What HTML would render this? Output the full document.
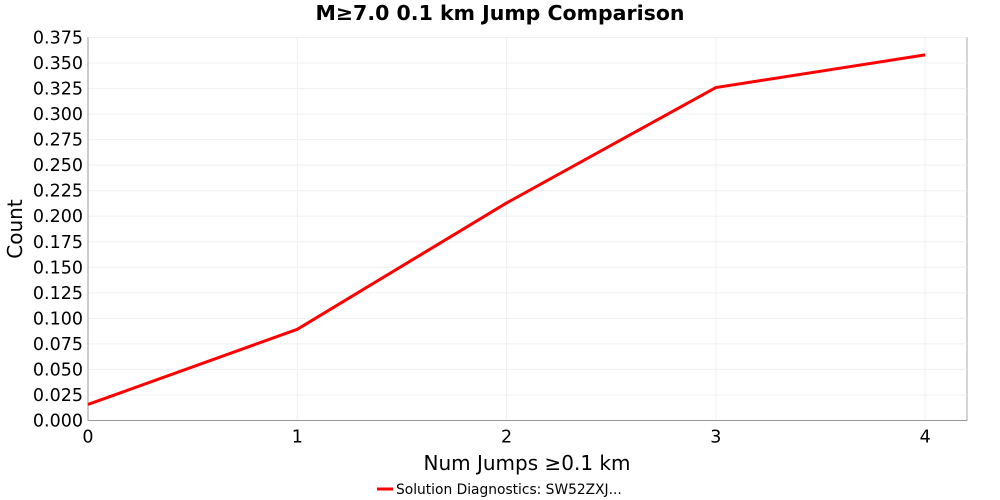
<!DOCTYPE html>
<html><head><meta charset="utf-8"><style>
body{margin:0;background:#fff;}
svg{display:block;font-family:"Liberation Sans","DejaVu Sans",sans-serif;}
</style></head><body>
<svg id="chart" width="1000" height="500">
<text x="500" y="20" text-anchor="middle" font-size="20.5" font-weight="bold" font-family="DejaVu Sans, sans-serif">M≥7.0 0.1 km Jump Comparison</text>
<g id="grid"></g>
<g id="yticks"></g>
<g id="xticks"></g>
<g id="series"></g>
<text x="0" y="0" transform="translate(22,229) rotate(-90)" text-anchor="middle" font-size="20" font-family="DejaVu Sans, sans-serif">Count</text>
<text x="527" y="470" text-anchor="middle" font-size="20" font-family="DejaVu Sans, sans-serif">Num Jumps ≥0.1 km</text>
<g>
<line x1="377" y1="489" x2="393" y2="489" stroke="#f00" stroke-width="3"/>
<text x="396" y="494" font-size="13.8" font-family="DejaVu Sans, sans-serif">Solution Diagnostics: SW52ZXJ...</text>
</g>
</svg>
<script>
const categories = [0, 1, 2, 3, 4];
const seriesValues = [0.0157, 0.0893, 0.213, 0.326, 0.358];
const yTickLabels = ["0.000","0.025","0.050","0.075","0.100","0.125","0.150","0.175","0.200","0.225","0.250","0.275","0.300","0.325","0.350","0.375"];
const xTickLabels = ["0","1","2","3","4"];

const L=88,R=967,T=37.5,B=420.5;
const xMax=4.2, yMax=0.375;
const xs=v=>L+(v/xMax)*(R-L);
const ys=v=>B-(v/yMax)*(B-T);
const NS="http://www.w3.org/2000/svg";
function mk(tag,parent,attrs){const e=document.createElementNS(NS,tag);for(const k in attrs)e.setAttribute(k,attrs[k]);parent.appendChild(e);return e;}
const grid=document.getElementById('grid'),yt=document.getElementById('yticks'),xt=document.getElementById('xticks'),ser=document.getElementById('series');

const bg=mk('rect',grid,{x:L,y:T,width:R-L,height:B-T,fill:'#fff',stroke:'#aaa','stroke-width':1});



yTickLabels.forEach(s=>{
  const v=parseFloat(s),y=ys(v);
  const g=mk('line',grid,{x1:L,x2:R,y1:y,y2:y,stroke:'#f0f0f0','stroke-width':1});
  
  
  const t=mk('text',yt,{x:L-5,y:y+6,'text-anchor':'end','font-size':17.5,'font-family':'DejaVu Sans, sans-serif'});
  t.textContent=s;
  
  
});
xTickLabels.forEach(s=>{
  const v=parseFloat(s),x=xs(v);
  const g=mk('line',grid,{x1:x,x2:x,y1:T,y2:B,stroke:'#f0f0f0','stroke-width':1});
  
  
  const t=mk('text',xt,{x:x,y:B+22,'text-anchor':'middle','font-size':17.5,'font-family':'DejaVu Sans, sans-serif'});
  t.textContent=s;
  
  
});
const ax=mk('path',grid,{d:`M${L},${T}V${B}H${R}`,fill:'none',stroke:'#999','stroke-width':1});



const pts=categories.map((c,i)=>xs(c)+','+ys(seriesValues[i])).join(' ');
const line=mk('polyline',ser,{points:pts,fill:'none',stroke:'#f00','stroke-width':3,'stroke-linejoin':'round'});


</script>
</body></html>
